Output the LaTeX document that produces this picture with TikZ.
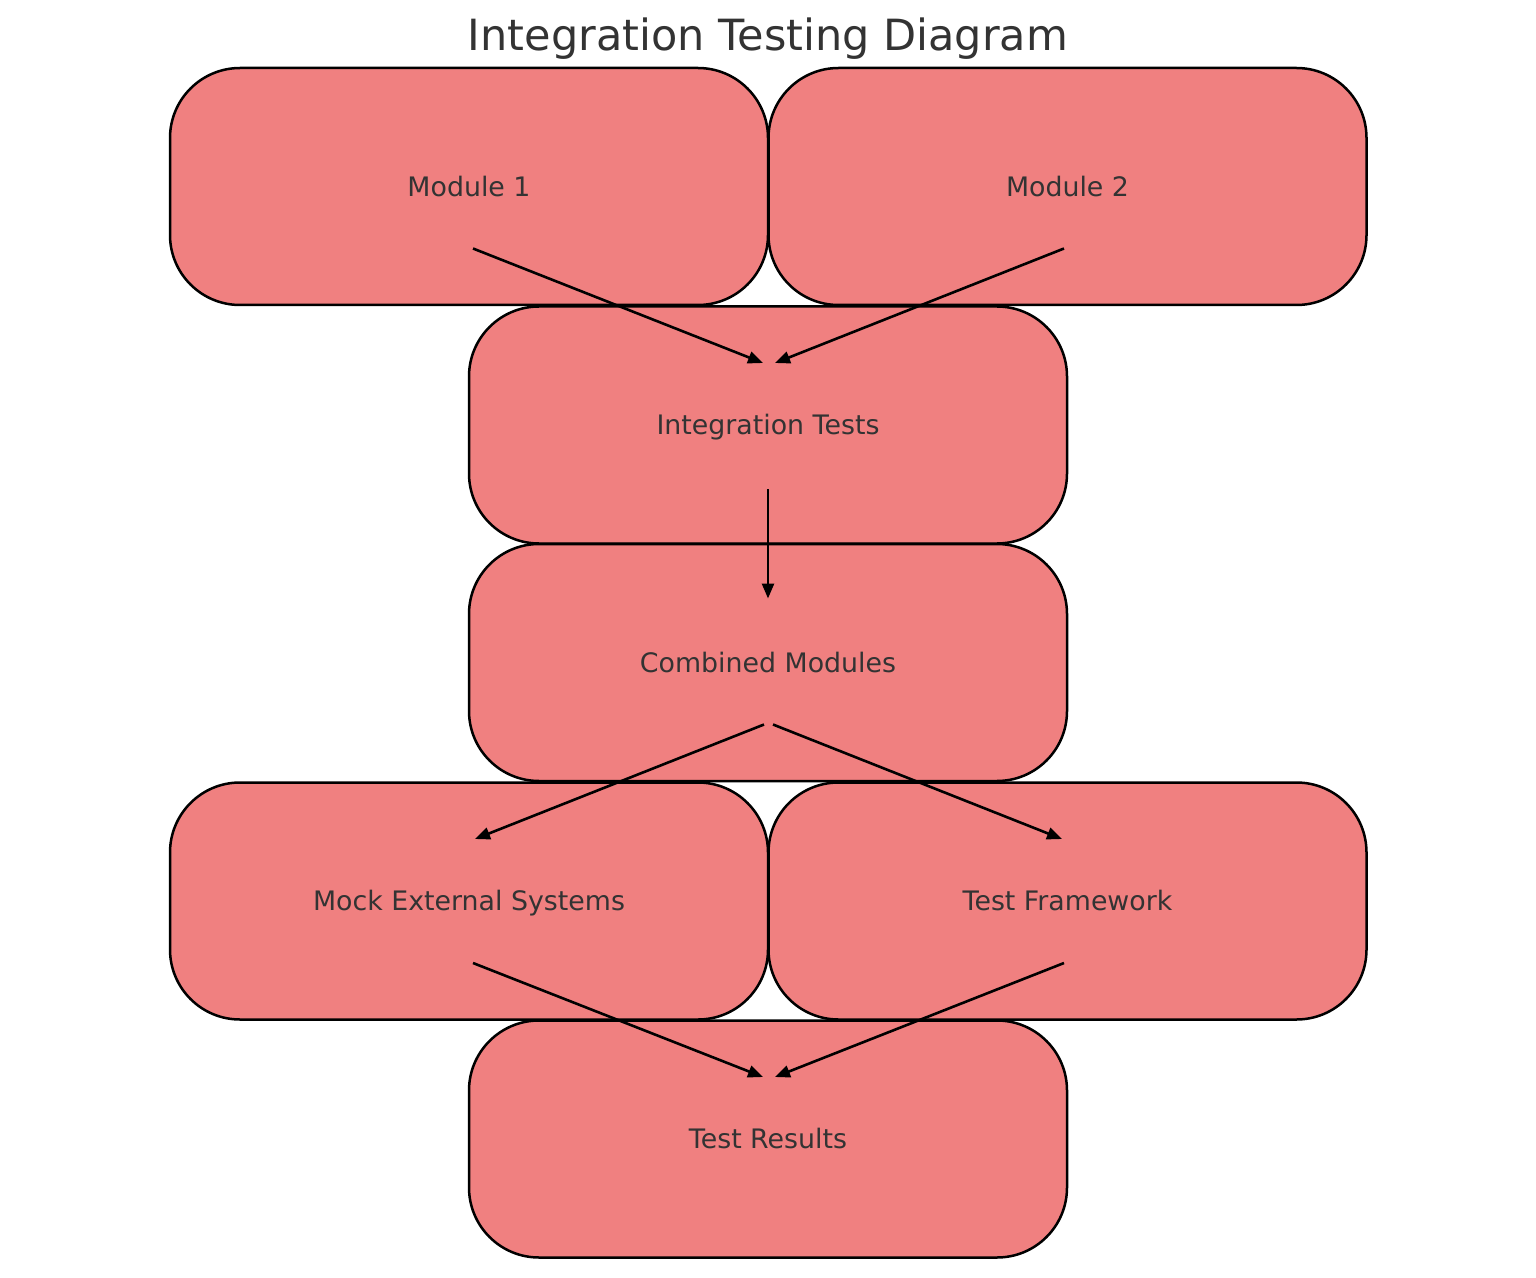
\documentclass[tikz,border=0pt]{standalone}
\usepackage{fontspec}
\setmainfont{DejaVu Sans}
\usetikzlibrary{arrows.meta,calc}
\definecolor{boxfill}{HTML}{F08080}
\definecolor{txt}{HTML}{333333}
\tikzset{
  mbox/.style={draw=black, line width=1.25pt, fill=boxfill, rounded corners=35pt,
    minimum width=299pt, minimum height=118.5pt, inner sep=0pt,
    text height=1.03em, text depth=0.05em,
    text=txt, font=\fontsize{13.4pt}{16pt}\selectfont},
  conn/.style={line width=1.3pt, -{Triangle[length=7.5pt,width=6pt]}}
}
\begin{document}
\begin{tikzpicture}[x=0.5pt,y=-0.5pt]
\useasboundingbox[fill=white] (0,0) rectangle (1536,1278);
\node[text=txt, font=\fontsize{21.5pt}{26pt}\selectfont] (title) at (768,39) {Integration Testing Diagram};
\node[mbox] (m1) at (469,186.5) {Module 1};
\node[mbox] (m2) at (1067.5,186.5) {Module 2};
\node[mbox] (it) at (768,425) {Integration Tests};
\node[mbox] (cm) at (768,662.5) {Combined Modules};
\node[mbox] (mock) at (469,901) {Mock External Systems};
\node[mbox] (tf) at (1067.5,901) {Test Framework};
\node[mbox] (tr) at (768,1139) {Test Results};
\draw[conn] ($(m1.center)+(4,62)$) -- ($(it.center)+(-5,-62)$);
\draw[conn] ($(m2.center)+(-3.5,62)$) -- ($(it.center)+(7,-62)$);
\draw[conn] ($(it.center)+(0,64)$) -- ($(cm.center)+(0,-64)$);
\draw[conn] ($(cm.center)+(-4,62)$) -- ($(mock.center)+(6,-62)$);
\draw[conn] ($(cm.center)+(5,62)$) -- ($(tf.center)+(-5.5,-62)$);
\draw[conn] ($(mock.center)+(4,62)$) -- ($(tr.center)+(-5,-62)$);
\draw[conn] ($(tf.center)+(-3.5,62)$) -- ($(tr.center)+(7,-62)$);
\end{tikzpicture}
\end{document}
